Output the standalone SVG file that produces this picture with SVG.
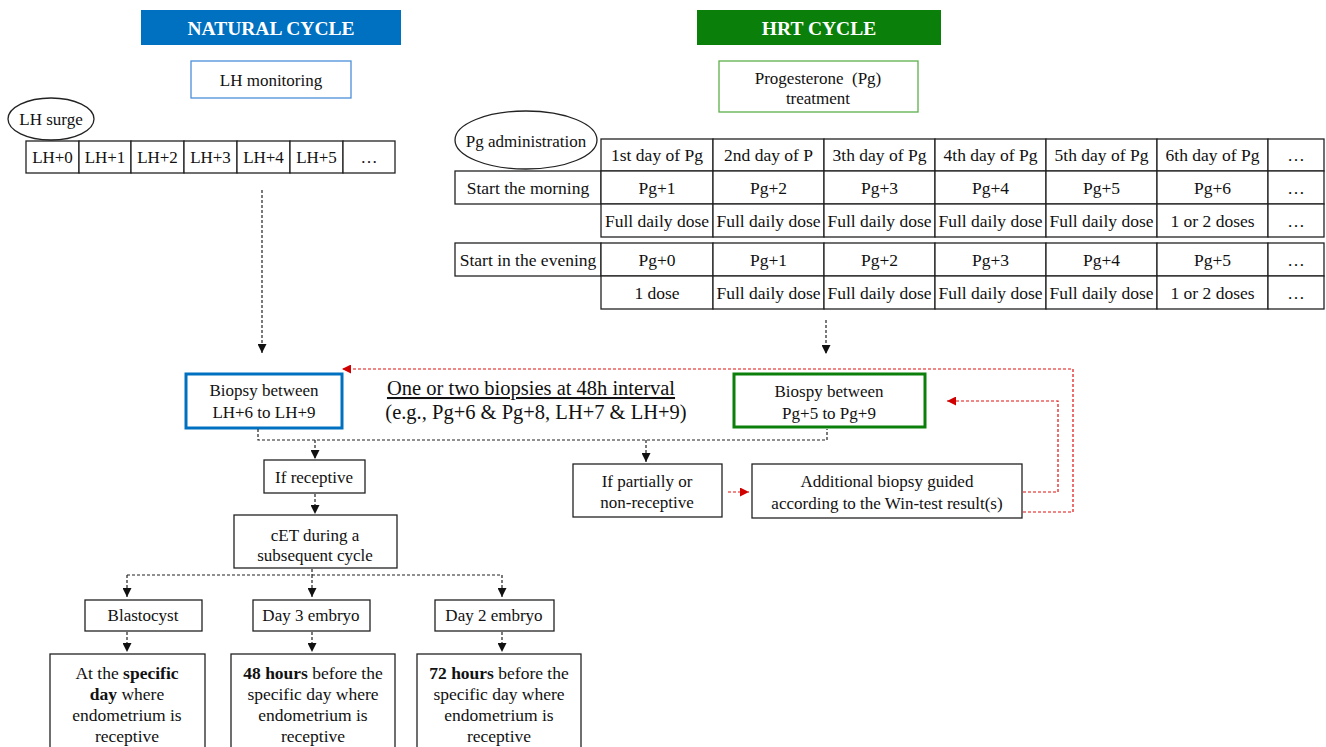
<svg xmlns="http://www.w3.org/2000/svg" width="1326" height="747" viewBox="0 0 1326 747">
<style>
text{font-family:"Liberation Serif","Times New Roman",serif;fill:#111;text-anchor:middle}
.t{font-size:17px}
.tb{font-size:17.5px}
.h{font-size:19.5px;font-weight:bold;fill:#fff}
.box{fill:#fff;stroke:#222;stroke-width:1.3}
.cell{fill:#fff;stroke:#222;stroke-width:1.3}
.dk{fill:none;stroke:#222;stroke-width:1.2;stroke-dasharray:3 2}
.rd{fill:none;stroke:#e01010;stroke-width:1.2;stroke-dasharray:3 2}
</style>
<defs>
<marker id="ab" viewBox="0 0 10 10" refX="10" refY="5" markerWidth="9" markerHeight="9" markerUnits="userSpaceOnUse" orient="auto"><path d="M0,0 L10,5 L0,10 z" fill="#111"/></marker>
<marker id="ar" viewBox="0 0 10 10" refX="10" refY="5" markerWidth="9" markerHeight="9" markerUnits="userSpaceOnUse" orient="auto"><path d="M0,0 L10,5 L0,10 z" fill="#d00000"/></marker>
</defs>

<g id="natural-header"><rect x="141" y="10" width="260" height="35" fill="#0070c0"/><text class="h" x="271" y="35">NATURAL CYCLE</text></g>
<g id="hrt-header"><rect x="697" y="10" width="244" height="35" fill="#0a7f0a"/><text class="h" x="819" y="35">HRT CYCLE</text></g>

<g id="lh-monitoring"><rect x="191" y="61" width="160" height="37" fill="#fff" stroke="#4a90d9" stroke-width="1.3"/><text class="t" x="271" y="86">LH monitoring</text></g>
<g id="pg-treatment"><rect x="719" y="61" width="199" height="51" fill="#fff" stroke="#5cb04a" stroke-width="1.3"/><text class="t" x="818" y="84" xml:space="preserve">Progesterone  (Pg)</text><text class="t" x="818" y="104">treatment</text></g>

<g id="lh-surge"><ellipse cx="51" cy="119" rx="43" ry="21" fill="#fff" stroke="#222" stroke-width="1.3"/><text class="t" x="51" y="125">LH surge</text></g>
<g id="lh-row" class="t">
<rect class="cell" x="26" y="141" width="53" height="32"/><text x="52.5" y="163">LH+0</text>
<rect class="cell" x="79" y="141" width="52" height="32"/><text x="105" y="163">LH+1</text>
<rect class="cell" x="131" y="141" width="53" height="32"/><text x="157.5" y="163">LH+2</text>
<rect class="cell" x="184" y="141" width="53" height="32"/><text x="210.5" y="163">LH+3</text>
<rect class="cell" x="237" y="141" width="53" height="32"/><text x="263.5" y="163">LH+4</text>
<rect class="cell" x="290" y="141" width="53" height="32"/><text x="316.5" y="163">LH+5</text>
<rect class="cell" x="343" y="141" width="52" height="32"/><text x="369" y="163">…</text>
</g>

<g id="pg-admin"><ellipse cx="526" cy="140" rx="71" ry="29" fill="#fff" stroke="#222" stroke-width="1.3"/><text class="t" x="526" y="147">Pg administration</text></g>

<g id="pg-table" class="tb">
<rect class="cell" x="601" y="139" width="112" height="32"/><text x="657" y="161">1st day of Pg</text>
<rect class="cell" x="713" y="139" width="111" height="32"/><text x="768.5" y="161">2nd day of P</text>
<rect class="cell" x="824" y="139" width="111" height="32"/><text x="879.5" y="161">3th day of Pg</text>
<rect class="cell" x="935" y="139" width="111" height="32"/><text x="990.5" y="161">4th day of Pg</text>
<rect class="cell" x="1046" y="139" width="111" height="32"/><text x="1101.5" y="161">5th day of Pg</text>
<rect class="cell" x="1157" y="139" width="111" height="32"/><text x="1212.5" y="161">6th day of Pg</text>
<rect class="cell" x="1268" y="139" width="56" height="32"/><text x="1296" y="161">…</text>

<rect class="cell" x="455" y="171" width="146" height="33"/><text x="528" y="194">Start the morning</text>
<rect class="cell" x="601" y="171" width="112" height="33"/><text x="657" y="194">Pg+1</text>
<rect class="cell" x="713" y="171" width="111" height="33"/><text x="768.5" y="194">Pg+2</text>
<rect class="cell" x="824" y="171" width="111" height="33"/><text x="879.5" y="194">Pg+3</text>
<rect class="cell" x="935" y="171" width="111" height="33"/><text x="990.5" y="194">Pg+4</text>
<rect class="cell" x="1046" y="171" width="111" height="33"/><text x="1101.5" y="194">Pg+5</text>
<rect class="cell" x="1157" y="171" width="111" height="33"/><text x="1212.5" y="194">Pg+6</text>
<rect class="cell" x="1268" y="171" width="56" height="33"/><text x="1296" y="194">…</text>

<rect class="cell" x="601" y="204" width="112" height="33"/><text x="657" y="227">Full daily dose</text>
<rect class="cell" x="713" y="204" width="111" height="33"/><text x="768.5" y="227">Full daily dose</text>
<rect class="cell" x="824" y="204" width="111" height="33"/><text x="879.5" y="227">Full daily dose</text>
<rect class="cell" x="935" y="204" width="111" height="33"/><text x="990.5" y="227">Full daily dose</text>
<rect class="cell" x="1046" y="204" width="111" height="33"/><text x="1101.5" y="227">Full daily dose</text>
<rect class="cell" x="1157" y="204" width="111" height="33"/><text x="1212.5" y="227">1 or 2 doses</text>
<rect class="cell" x="1268" y="204" width="56" height="33"/><text x="1296" y="227">…</text>

<rect class="cell" x="455" y="243" width="146" height="33"/><text x="528" y="266">Start in the evening</text>
<rect class="cell" x="601" y="243" width="112" height="33"/><text x="657" y="266">Pg+0</text>
<rect class="cell" x="713" y="243" width="111" height="33"/><text x="768.5" y="266">Pg+1</text>
<rect class="cell" x="824" y="243" width="111" height="33"/><text x="879.5" y="266">Pg+2</text>
<rect class="cell" x="935" y="243" width="111" height="33"/><text x="990.5" y="266">Pg+3</text>
<rect class="cell" x="1046" y="243" width="111" height="33"/><text x="1101.5" y="266">Pg+4</text>
<rect class="cell" x="1157" y="243" width="111" height="33"/><text x="1212.5" y="266">Pg+5</text>
<rect class="cell" x="1268" y="243" width="56" height="33"/><text x="1296" y="266">…</text>

<rect class="cell" x="601" y="276" width="112" height="33"/><text x="657" y="299">1 dose</text>
<rect class="cell" x="713" y="276" width="111" height="33"/><text x="768.5" y="299">Full daily dose</text>
<rect class="cell" x="824" y="276" width="111" height="33"/><text x="879.5" y="299">Full daily dose</text>
<rect class="cell" x="935" y="276" width="111" height="33"/><text x="990.5" y="299">Full daily dose</text>
<rect class="cell" x="1046" y="276" width="111" height="33"/><text x="1101.5" y="299">Full daily dose</text>
<rect class="cell" x="1157" y="276" width="111" height="33"/><text x="1212.5" y="299">1 or 2 doses</text>
<rect class="cell" x="1268" y="276" width="56" height="33"/><text x="1296" y="299">…</text>
</g>

<g id="biopsy-lh"><rect x="186" y="374" width="156" height="54" fill="#fff" stroke="#0070c0" stroke-width="3"/><text class="t" x="264" y="396">Biopsy between</text><text class="t" x="264" y="418">LH+6 to LH+9</text></g>
<g id="biopsy-note"><text x="531" y="395" font-size="20.5" text-decoration="underline">One or two biopsies at 48h interval</text><text x="536" y="419" font-size="20.5">(e.g., Pg+6 &amp; Pg+8, LH+7 &amp; LH+9)</text></g>
<g id="biopsy-pg"><rect x="734" y="374" width="191" height="53" fill="#fff" stroke="#0a7f0a" stroke-width="3"/><text class="t" x="829" y="397">Biospy between</text><text class="t" x="829" y="419">Pg+5 to Pg+9</text></g>

<g id="if-receptive"><rect class="box" x="264" y="460" width="101" height="33"/><text class="t" x="314" y="483">If receptive</text></g>
<g id="if-partial"><rect class="box" x="573" y="464" width="149" height="53"/><text class="t" x="647" y="487">If partially or</text><text class="t" x="647" y="508">non-receptive</text></g>
<g id="additional"><rect class="box" x="752" y="464" width="270" height="54"/><text class="t" x="887" y="487">Additional biopsy guided</text><text class="t" x="887" y="509">according to the Win-test result(s)</text></g>

<g id="cet"><rect class="box" x="234" y="515" width="163" height="53"/><text class="t" x="315" y="541">cET during a</text><text class="t" x="315" y="561">subsequent cycle</text></g>
<g id="blastocyst"><rect class="box" x="85" y="600" width="117" height="31"/><text class="t" x="143" y="621">Blastocyst</text></g>
<g id="day3"><rect class="box" x="253" y="600" width="117" height="31"/><text class="t" x="311" y="621">Day 3 embryo</text></g>
<g id="day2"><rect class="box" x="435" y="600" width="119" height="31"/><text class="t" x="494" y="621">Day 2 embryo</text></g>

<g id="out-blast" class="tb"><rect class="box" x="50" y="654" width="155" height="110"/>
<text x="127" y="679">At the <tspan font-weight="bold">specific</tspan></text><text x="127" y="700"><tspan font-weight="bold">day</tspan> where</text><text x="127" y="721">endometrium is</text><text x="127" y="742">receptive</text></g>
<g id="out-day3" class="tb"><rect class="box" x="231" y="654" width="164" height="110"/>
<text x="313" y="679"><tspan font-weight="bold">48 hours</tspan> before the</text><text x="313" y="700">specific day where</text><text x="313" y="721">endometrium is</text><text x="313" y="742">receptive</text></g>
<g id="out-day2" class="tb"><rect class="box" x="417" y="654" width="164" height="110"/>
<text x="499" y="679"><tspan font-weight="bold">72 hours</tspan> before the</text><text x="499" y="700">specific day where</text><text x="499" y="721">endometrium is</text><text x="499" y="742">receptive</text></g>

<g id="connectors">
<path class="dk" d="M262,190 V353" marker-end="url(#ab)"/>
<path class="dk" d="M826,320 V354" marker-end="url(#ab)"/>
<path class="dk" d="M258,429 V440 H827 V429"/>
<path class="dk" d="M315,440 V459" marker-end="url(#ab)"/>
<path class="dk" d="M646,440 V462" marker-end="url(#ab)"/>
<path class="dk" d="M315,494 V514" marker-end="url(#ab)"/>
<path class="dk" d="M127,575 H502"/>
<path class="dk" d="M312,569 V575"/>
<path class="dk" d="M127,575 V597" marker-end="url(#ab)"/>
<path class="dk" d="M312,575 V597" marker-end="url(#ab)"/>
<path class="dk" d="M502,575 V597" marker-end="url(#ab)"/>
<path class="dk" d="M127,632 V652" marker-end="url(#ab)"/>
<path class="dk" d="M312,632 V652" marker-end="url(#ab)"/>
<path class="dk" d="M502,632 V652" marker-end="url(#ab)"/>
<path class="rd" d="M728,492 H749" marker-end="url(#ar)"/>
<path class="rd" d="M1023,492 H1058 V401 H947" marker-end="url(#ar)"/>
<path class="rd" d="M1023,512 H1073 V369 H342" marker-end="url(#ar)"/>
</g>
</svg>
